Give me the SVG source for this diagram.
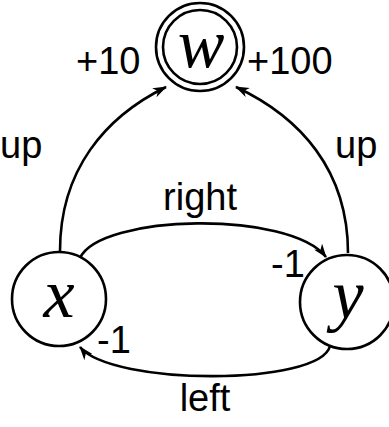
<svg xmlns="http://www.w3.org/2000/svg" width="389" height="427" viewBox="0 0 389 427">
<style>
.n{fill:none;stroke:#000;stroke-width:2.6}
.e{fill:none;stroke:#000;stroke-width:2.6;marker-end:url(#ah)}
.lab{font-family:"Liberation Sans",Arial,sans-serif;font-size:38px;fill:#000}
.nl{font-family:"Liberation Serif","Times New Roman",serif;font-style:italic;font-size:70px;fill:#000;text-anchor:middle}
</style>
<defs>
<marker id="ah" viewBox="0 0 14 10" refX="13" refY="5" markerWidth="14" markerHeight="10" markerUnits="userSpaceOnUse" orient="auto">
<path d="M0,0 L14,5 L0,10 L4,5 z" fill="#000"/>
</marker>
</defs>
<rect width="389" height="427" fill="#fff"/>
<g id="connectors">
<path class="e" d="M60,251 C60,170 105,117 166,87"/>
<path class="e" d="M348,253 C348,170 300,117 236,87"/>
<path class="e" d="M80,258 C100,214 290,210 326,257"/>
<path class="e" d="M330,346 C320,386 112,386 80,347"/>
</g>
<g id="labels">
<text class="lab" x="76" y="74">+10</text>
<text class="lab" x="247" y="74">+100</text>
<text class="lab" x="0" y="158">up</text>
<text class="lab" x="335" y="158">up</text>
<text class="lab" x="200" y="210" text-anchor="middle">right</text>
<text class="lab" x="271" y="277">-1</text>
<text class="lab" x="97" y="353">-1</text>
<text class="lab" x="205" y="411" text-anchor="middle">left</text>
</g>
<g id="node-w">
<circle class="n" cx="200" cy="47" r="44"/>
<circle class="n" cx="200" cy="47" r="37"/>
<text class="nl" x="201" y="67">w</text>
</g>
<g id="node-x">
<circle class="n" cx="59" cy="299" r="47"/>
<text class="nl" x="59" y="317">x</text>
</g>
<g id="node-y">
<circle class="n" cx="347" cy="302" r="47"/>
<text class="nl" x="348" y="318">y</text>
</g>
</svg>
